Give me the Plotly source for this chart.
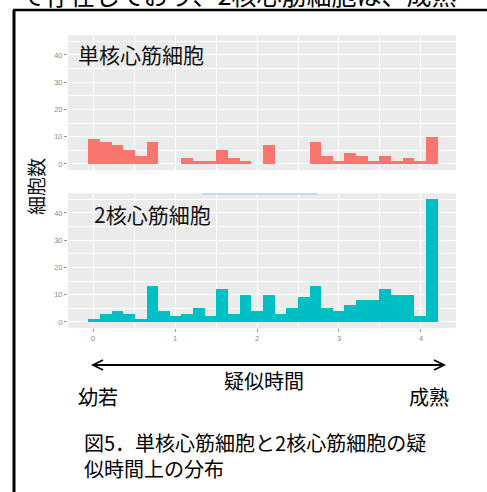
import plotly.graph_objects as go

# Histogram counts along pseudotime (30 bins)
mono_counts = [9, 8, 7, 5, 3, 8, 0, 0, 2, 1, 1, 5, 2, 1, 0,
               7, 0, 0, 0, 8, 3, 1, 4, 3, 1, 3, 1, 2, 1, 10]
bi_counts = [1, 3, 4, 3, 1, 13, 4, 2, 3, 5, 2, 12, 3, 10, 4,
             10, 3, 5, 9, 13, 5, 4, 6, 8, 8, 12, 10, 10, 2, 45]
bin_start = -0.057
bin_width = 0.142
x_ticks = [0, 1, 2, 3, 4]
y_ticks = [0, 10, 20, 30, 40]

panel_labels = ["単核心筋細胞", "2核心筋細胞"]
y_title = "細胞数"
x_title = "疑似時間"
left_label = "幼若"
right_label = "成熟"
caption_lines = ["図5．単核心筋細胞と2核心筋細胞の疑", "似時間上の分布"]
header_text = "で存在しており、2核心筋細胞は、成熟"

W, H = 487, 492


def px(x):
    return x / W


def py(y):
    return 1 - y / H


centers = [bin_start + (i + 0.5) * bin_width for i in range(len(mono_counts))]

fig = go.Figure()
fig.add_trace(go.Bar(x=centers, y=mono_counts, width=bin_width,
                     marker=dict(color="#F8766D", line=dict(width=0)),
                     xaxis="x", yaxis="y", showlegend=False))
fig.add_trace(go.Bar(x=centers, y=bi_counts, width=bin_width,
                     marker=dict(color="#00BFC4", line=dict(width=0)),
                     xaxis="x2", yaxis="y2", showlegend=False))

tick_font = dict(family="Liberation Sans", size=7.5, color="#8a8a8a")
xrange = [-0.305, 4.427]
yrange = [-2.25, 47.25]
xdom = [px(68), px(456)]

common_x = dict(range=xrange, domain=xdom, showgrid=True, gridcolor="white",
                gridwidth=1.3, zeroline=False, showline=False,
                tickvals=x_ticks,
                minor=dict(dtick=0.5, tick0=0, showgrid=True, gridcolor="white",
                           gridwidth=0.6))
common_y = dict(range=yrange, showgrid=True, gridcolor="white", gridwidth=1.3,
                zeroline=False, showline=False, tickvals=y_ticks,
                ticks="outside", ticklen=3, tickwidth=1, tickcolor="#9a9a9a",
                tickfont=tick_font,
                minor=dict(dtick=5, tick0=0, showgrid=True, gridcolor="white",
                           gridwidth=0.6))

fig.update_layout(
    width=W, height=H, margin=dict(l=0, r=0, t=0, b=0),
    paper_bgcolor="white", plot_bgcolor="#EBEBEB",
    bargap=0,
    xaxis=dict(**common_x, anchor="y", showticklabels=False, ticks=""),
    xaxis2=dict(**common_x, anchor="y2", ticks="outside", ticklen=3,
                tickwidth=1, tickcolor="#9a9a9a", tickfont=tick_font),
    yaxis=dict(**common_y, anchor="x", domain=[py(170.1), py(35.2)]),
    yaxis2=dict(**common_y, anchor="x2", domain=[py(328.1), py(193.2)]),
)

jp = "Noto Sans CJK JP"
annotations = [
    dict(text=panel_labels[0], x=px(76), y=py(54), xanchor="left", yanchor="middle",
         font=dict(family=jp, size=21, color="#111111")),
    dict(text=panel_labels[1], x=px(92), y=py(214), xanchor="left", yanchor="middle",
         font=dict(family=jp, size=21, color="#111111")),
    dict(text=y_title, x=px(35), y=py(187), xanchor="center", yanchor="middle",
         textangle=-90, font=dict(family=jp, size=19, color="#111111")),
    dict(text=x_title, x=px(264), y=py(380), xanchor="center", yanchor="middle",
         font=dict(family=jp, size=20, color="black")),
    dict(text=left_label, x=px(98), y=py(396), xanchor="center", yanchor="middle",
         font=dict(family=jp, size=20, color="black")),
    dict(text=right_label, x=px(429), y=py(396), xanchor="center", yanchor="middle",
         font=dict(family=jp, size=20, color="black")),
    dict(text="<br>".join(caption_lines), x=px(82), y=py(455), xanchor="left",
         yanchor="middle", align="left",
         font=dict(family=jp, size=20, color="black")),
    dict(text=header_text, x=px(18), y=py(14), xanchor="left", yanchor="bottom",
         font=dict(family=jp, size=25, color="black")),
]
for a in annotations:
    a.update(xref="paper", yref="paper", showarrow=False)
fig.update_layout(annotations=annotations)


def path(points):
    return "M " + " L ".join(f"{px(x)},{py(y)}" for x, y in points)


shapes = [
    # frame around the figure
    dict(type="line", x0=px(13), x1=px(487), y0=py(10), y1=py(10),
         line=dict(color="black", width=2.5)),
    dict(type="line", x0=px(14), x1=px(14), y0=py(10), y1=py(492),
         line=dict(color="black", width=3)),
    # faint line along the top of the lower panel
    dict(type="line", x0=px(202), x1=px(317), y0=py(194), y1=py(194),
         line=dict(color="#a6def2", width=1.5)),
    # double-headed pseudotime arrow
    dict(type="line", x0=px(93), x1=px(444), y0=py(365), y1=py(365),
         line=dict(color="black", width=1.8)),
    dict(type="path", path=path([(103, 360), (93, 365), (103, 370)]),
         line=dict(color="black", width=1.8)),
    dict(type="path", path=path([(434, 360), (444, 365), (434, 370)]),
         line=dict(color="black", width=1.8)),
]
for s in shapes:
    s.update(xref="paper", yref="paper")
fig.update_layout(shapes=shapes)

fig.write_html("out.html")
